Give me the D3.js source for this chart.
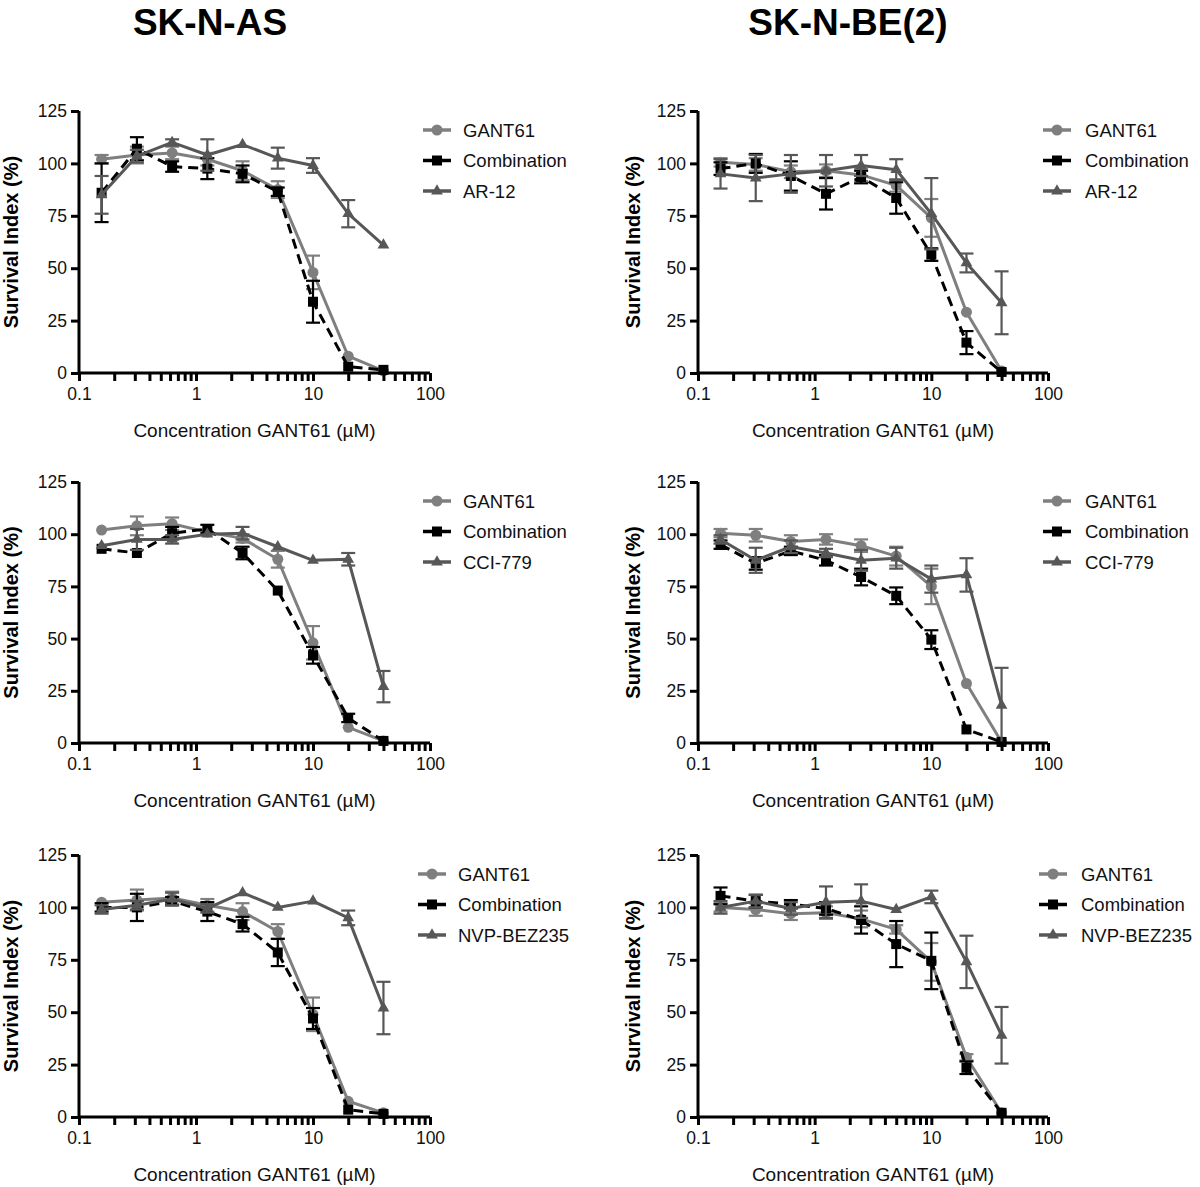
<!DOCTYPE html>
<html><head><meta charset="utf-8">
<script src="https://cdnjs.cloudflare.com/ajax/libs/d3/7.8.5/d3.min.js"></script>
<style>body{margin:0;background:#fff}svg{display:block}text{font-family:"Liberation Sans",Arial,sans-serif}</style>
</head><body>
<svg id="c" width="1200" height="1187"></svg>
<script>
// ---- DATA ----
const conc = [0.156, 0.3125, 0.625, 1.25, 2.5, 5, 10, 20, 40];
const cellLines = ["SK-N-AS", "SK-N-BE(2)"];
const drugs = ["AR-12", "CCI-779", "NVP-BEZ235"];
const seriesNames = ["GANT61", "Combination"];
const yTicks = [0, 25, 50, 75, 100, 125];
const xMajor = [0.1, 1, 10, 100];
const xLabel = "Concentration GANT61 (\u00B5M)";
const yLabel = "Survival Index (%)";

// SK-N-AS / AR-12
const asAR_gant = [102, 104, 105, 102, 96.5, 87.5, 48, 8, 1];
const asAR_gantErr = [2, 4, 3, 3, 4.5, 4, 8, 1, 0.5];
const asAR_comb = [86, 107, 98.5, 97.5, 95, 86.5, 34, 3, 1.5];
const asAR_combErr = [14, 5.5, 2.5, 5, 4, 2, 10, 1, 0.5];
const asAR_drug = [85, 103.5, 110, 104, 109, 102.5, 99, 76, 61];
const asAR_drugErr = [9, 3, 1.5, 7.5, 1, 5, 3.5, 6.5, 0.5];
// SK-N-BE(2) / AR-12
const beAR_gant = [100.5, 99.5, 96, 96.5, 94.5, 89.5, 74, 29, 1];
const beAR_gantErr = [2, 3, 3, 3, 3, 3, 9, 1, 0.5];
const beAR_comb = [97.5, 100, 94, 85.5, 93.5, 83.5, 56.5, 14.5, 0.5];
const beAR_combErr = [3, 4.5, 7, 7.5, 3, 7.5, 3, 5.5, 0.5];
const beAR_drug = [95, 93, 95, 96.5, 99, 97, 76, 52.5, 33.5];
const beAR_drugErr = [7, 11, 9, 7.5, 5, 5, 17, 4.5, 15];
// SK-N-AS / CCI-779
const asCCI_gant = [102, 104, 105, 101, 98, 88, 48, 7.5, 1];
const asCCI_gantErr = [1, 4.5, 3, 1, 2, 4, 8, 1, 0.5];
const asCCI_comb = [93, 91, 100.5, 102.5, 91, 73, 42, 12, 1];
const asCCI_combErr = [1, 1, 3, 2, 3, 1, 4, 2, 0.5];
const asCCI_drug = [94.5, 97.5, 97.5, 100, 100.5, 94, 87.5, 88, 27];
const asCCI_drugErr = [1, 5, 2, 1, 3, 1, 1, 3, 7.5];
// SK-N-BE(2) / CCI-779
const beCCI_gant = [100.5, 99.5, 96.5, 97.5, 94.5, 89.5, 75, 28.5, 0.5];
const beCCI_gantErr = [2, 3, 3, 2.5, 3, 4.5, 8.5, 1, 0.5];
const beCCI_comb = [95, 86, 92, 87.5, 79.5, 70.5, 49.5, 6.5, 0.5];
const beCCI_combErr = [2, 3, 2, 2.5, 4, 4, 4.5, 1, 0.5];
const beCCI_drug = [97.5, 87.5, 94, 91, 87.5, 88.5, 78.5, 80.5, 18];
const beCCI_drugErr = [2, 6, 3, 2, 5, 5, 6.5, 8, 18];
// SK-N-AS / NVP-BEZ235
const asNVP_gant = [102.5, 103.5, 104.5, 101, 98, 88.5, 49, 7.5, 2];
const asNVP_gantErr = [1, 5, 3, 3, 4, 3.5, 8, 1, 0.5];
const asNVP_comb = [100, 100, 103, 98, 92, 78.5, 47, 3.5, 1.5];
const asNVP_combErr = [2, 6.5, 2, 4.5, 3.5, 6.5, 5, 1, 0.5];
const asNVP_drug = [99, 101, 104, 99.5, 107, 100, 103, 95, 52];
const asNVP_drugErr = [2, 2, 3, 2, 1, 1, 1, 3.5, 12.5];
// SK-N-BE(2) / NVP-BEZ235
const beNVP_gant = [100, 99, 97, 97.5, 94.5, 89.5, 74, 28.5, 2];
const beNVP_gantErr = [2, 3, 3, 3, 4, 2, 9, 1.5, 0.5];
const beNVP_comb = [105.5, 103, 101.5, 99.5, 94, 82.5, 74.5, 23.5, 2];
const beNVP_combErr = [4, 3, 2, 3, 6.5, 11, 13.5, 3, 0.5];
const beNVP_drug = [100, 103, 99.5, 102.5, 103, 99, 105, 74, 39];
const beNVP_drugErr = [3, 3, 3, 7.5, 8, 1, 3, 12.5, 13.5];

// ---- LAYOUT ----
const cols = [{x0: 79, x1: 430, yl: 18, legLine: 423, legText: 463},
              {x0: 698, x1: 1048, yl: 640, legLine: 1043, legText: 1085}];
const rows = [{top: 111, bot: 373}, {top: 482, bot: 743}, {top: 855, bot: 1117}];
const panels = [
  {r: 0, c: 0, drug: drugs[0], d: [[asAR_gant, asAR_gantErr], [asAR_comb, asAR_combErr], [asAR_drug, asAR_drugErr]]},
  {r: 0, c: 1, drug: drugs[0], d: [[beAR_gant, beAR_gantErr], [beAR_comb, beAR_combErr], [beAR_drug, beAR_drugErr]]},
  {r: 1, c: 0, drug: drugs[1], d: [[asCCI_gant, asCCI_gantErr], [asCCI_comb, asCCI_combErr], [asCCI_drug, asCCI_drugErr]]},
  {r: 1, c: 1, drug: drugs[1], d: [[beCCI_gant, beCCI_gantErr], [beCCI_comb, beCCI_combErr], [beCCI_drug, beCCI_drugErr]]},
  {r: 2, c: 0, drug: drugs[2], d: [[asNVP_gant, asNVP_gantErr], [asNVP_comb, asNVP_combErr], [asNVP_drug, asNVP_drugErr]], legShift: -5},
  {r: 2, c: 1, drug: drugs[2], d: [[beNVP_gant, beNVP_gantErr], [beNVP_comb, beNVP_combErr], [beNVP_drug, beNVP_drugErr]], legShift: -4}
];
const styles = [
  {color: "#7f7f7f", shape: "circle", dash: null},
  {color: "#000000", shape: "square", dash: "10,6"},
  {color: "#575757", shape: "triangle", dash: null}
];

const svg = d3.select("#c");

// Titles
svg.append("text").attr("x", 210).attr("y", 35).attr("text-anchor", "middle")
  .attr("font-size", 37).attr("font-weight", "bold").text(cellLines[0]);
svg.append("text").attr("x", 848).attr("y", 35).attr("text-anchor", "middle")
  .attr("font-size", 37).attr("font-weight", "bold").text(cellLines[1]);

// minor + major ticks for log axis
const xTickVals = [];
for (let dec = 0.1; dec < 100; dec *= 10) {
  for (let k = 1; k < 10; k++) xTickVals.push(+(dec * k).toPrecision(3));
}
xTickVals.push(100);

function marker(g, shape, x, y, color) {
  if (shape === "circle") {
    g.append("circle").attr("cx", x).attr("cy", y).attr("r", 5.5).attr("fill", color);
  } else if (shape === "square") {
    g.append("rect").attr("x", x - 5).attr("y", y - 5).attr("width", 10).attr("height", 10).attr("fill", color);
  } else {
    g.append("path").attr("d", d3.symbol().type(d3.symbolTriangle).size(60)()).attr("transform", `translate(${x},${y})`).attr("fill", color);
  }
}

panels.forEach(p => {
  const col = cols[p.c], row = rows[p.r];
  const x = d3.scaleLog().domain([0.1, 100]).range([col.x0, col.x1]);
  const y = d3.scaleLinear().domain([0, 125]).range([row.bot, row.top]);
  const g = svg.append("g");

  // series
  p.d.forEach((s, i) => {
    const st = styles[i];
    const vals = s[0], errs = s[1];
    const pts = conc.map((c, j) => ({c, v: vals[j], e: errs[j]}));
    const line = d3.line().x(d => x(d.c)).y(d => y(d.v));
    g.append("path").datum(pts).attr("d", line).attr("fill", "none")
      .attr("stroke", st.color).attr("stroke-width", 3)
      .attr("stroke-dasharray", st.dash).attr("stroke-linejoin", "round");
    // error bars
    pts.forEach(d => {
      if (d.e < 1.5) return;
      const xx = x(d.c), y1 = y(Math.min(125, d.v + d.e)), y2 = y(Math.max(0, d.v - d.e));
      g.append("line").attr("x1", xx).attr("x2", xx).attr("y1", y1).attr("y2", y2)
        .attr("stroke", st.color).attr("stroke-width", 2.2);
      [y1, y2].forEach(yy => g.append("line").attr("x1", xx - 7).attr("x2", xx + 7)
        .attr("y1", yy).attr("y2", yy).attr("stroke", st.color).attr("stroke-width", 2.2));
    });
    pts.forEach(d => marker(g, st.shape, x(d.c), y(d.v), st.color));
  });

  // axes
  const xAxis = d3.axisBottom(x).tickValues(xTickVals).tickSize(8).tickPadding(7)
    .tickFormat(v => xMajor.includes(v) ? String(v) : "");
  const gx = g.append("g").attr("transform", `translate(0,${row.bot})`).call(xAxis);
  const yAxis = d3.axisLeft(y).tickValues(yTicks).tickSize(8).tickPadding(4);
  const gy = g.append("g").attr("transform", `translate(${col.x0},0)`).call(yAxis);
  [gx, gy].forEach(a => {
    a.select(".domain").attr("stroke", "#000").attr("stroke-width", 3);
    a.selectAll(".tick line").attr("stroke", "#000").attr("stroke-width", 3);
    a.selectAll(".tick text").attr("font-size", 17.5).attr("fill", "#111")
      .attr("font-family", '"Liberation Sans",Arial,sans-serif');
  });
  gx.select(".domain").attr("d", `M${col.x0},0H${col.x1}`);
  gy.select(".domain").attr("d", `M0,${row.bot}V${row.top}`);

  // axis labels
  g.append("text").attr("x", (col.x0 + col.x1) / 2).attr("y", row.bot + 64)
    .attr("text-anchor", "middle").attr("font-size", 19).attr("fill", "#111").text(xLabel);
  g.append("text").attr("transform", `translate(${col.yl},${(row.top + row.bot) / 2}) rotate(-90)`)
    .attr("text-anchor", "middle").attr("font-size", 20).attr("font-weight", "bold").text(yLabel);

  // legend
  const names = [seriesNames[0], seriesNames[1], p.drug];
  const sh = p.legShift || 0;
  names.forEach((n, i) => {
    const st = styles[i];
    const ly = row.top + 19 + i * 30.5;
    const lx0 = col.legLine + sh, lx1 = lx0 + 28;
    g.append("line").attr("x1", lx0).attr("x2", lx1).attr("y1", ly).attr("y2", ly)
      .attr("stroke", st.color).attr("stroke-width", 3.5);
    marker(g, st.shape, (lx0 + lx1) / 2, ly, st.color);
    g.append("text").attr("x", col.legText + sh).attr("y", ly + 6.5)
      .attr("font-size", 18.5).attr("fill", "#111").text(n);
  });
});
</script>
</body></html>
